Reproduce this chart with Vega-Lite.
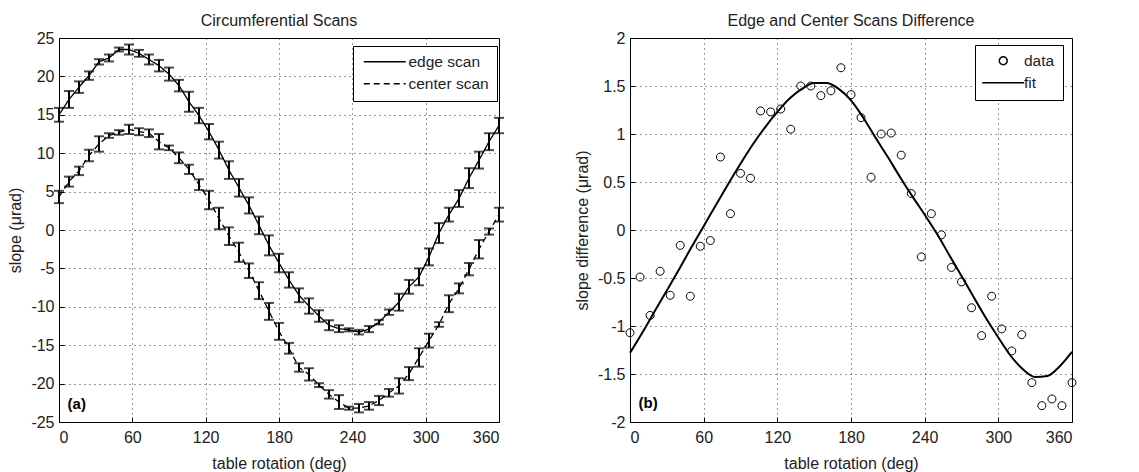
{
  "$schema": "https://vega.github.io/schema/vega-lite/v6.json",
  "background": "white",
  "padding": {"left": 7, "top": 12, "right": 2, "bottom": 0},
  "bounds": "flush",
  "spacing": 131,
  "resolve": {"scale": {"x": "independent", "y": "independent"}},
  "config": {
    "font": "Liberation Sans",
    "view": {"stroke": "black", "strokeWidth": 1},
    "axis": {
      "domain": false,
      "grid": true,
      "gridColor": "black",
      "gridDash": [1, 4],
      "gridWidth": 1,
      "gridOpacity": 0.8,
      "tickColor": "black",
      "tickSize": -5,
      "tickWidth": 1,
      "labelFont": "Liberation Sans",
      "labelFontSize": 16,
      "labelColor": "#222",
      "labelPadding": 10,
      "labelOverlap": false,
      "titleFont": "Liberation Sans",
      "titleFontSize": 16,
      "titleFontWeight": "normal",
      "titleColor": "#222"
    },
    "axisX": {"labelPadding": 12, "titlePadding": 10},
    "axisY": {"titlePadding": 7},
    "title": {"font": "Liberation Sans", "fontSize": 16, "fontWeight": "normal", "color": "#222", "baseline": "alphabetic", "offset": 1}
  },
  "datasets": {
    "scans": [
      {"deg": 0, "scan": "edge scan", "slope": 15.0, "err": 0.9},
      {"deg": 8.18, "scan": "edge scan", "slope": 17.0, "err": 1.1},
      {"deg": 16.36, "scan": "edge scan", "slope": 18.6, "err": 0.75},
      {"deg": 24.55, "scan": "edge scan", "slope": 20.1, "err": 0.55},
      {"deg": 32.73, "scan": "edge scan", "slope": 21.9, "err": 0.35},
      {"deg": 40.91, "scan": "edge scan", "slope": 22.4, "err": 0.45},
      {"deg": 49.09, "scan": "edge scan", "slope": 23.5, "err": 0.25},
      {"deg": 57.27, "scan": "edge scan", "slope": 23.5, "err": 0.65},
      {"deg": 65.45, "scan": "edge scan", "slope": 23.0, "err": 0.45},
      {"deg": 73.64, "scan": "edge scan", "slope": 22.2, "err": 0.65},
      {"deg": 81.82, "scan": "edge scan", "slope": 21.4, "err": 0.75},
      {"deg": 90, "scan": "edge scan", "slope": 20.3, "err": 0.85},
      {"deg": 98.18, "scan": "edge scan", "slope": 18.8, "err": 0.75},
      {"deg": 106.36, "scan": "edge scan", "slope": 16.7, "err": 1.3},
      {"deg": 114.55, "scan": "edge scan", "slope": 14.9, "err": 1.0},
      {"deg": 122.73, "scan": "edge scan", "slope": 12.8, "err": 1.0},
      {"deg": 130.91, "scan": "edge scan", "slope": 10.4, "err": 1.1},
      {"deg": 139.09, "scan": "edge scan", "slope": 7.8, "err": 1.15},
      {"deg": 147.27, "scan": "edge scan", "slope": 5.5, "err": 1.15},
      {"deg": 155.45, "scan": "edge scan", "slope": 3.2, "err": 1.05},
      {"deg": 163.64, "scan": "edge scan", "slope": 0.6, "err": 1.15},
      {"deg": 171.82, "scan": "edge scan", "slope": -2.0, "err": 1.3},
      {"deg": 180, "scan": "edge scan", "slope": -4.3, "err": 1.2},
      {"deg": 188.18, "scan": "edge scan", "slope": -6.5, "err": 1.0},
      {"deg": 196.36, "scan": "edge scan", "slope": -8.5, "err": 0.9},
      {"deg": 204.55, "scan": "edge scan", "slope": -9.9, "err": 1.0},
      {"deg": 212.73, "scan": "edge scan", "slope": -11.2, "err": 0.75},
      {"deg": 220.91, "scan": "edge scan", "slope": -12.4, "err": 0.65},
      {"deg": 229.09, "scan": "edge scan", "slope": -12.85, "err": 0.45},
      {"deg": 237.27, "scan": "edge scan", "slope": -13.0, "err": 0.2},
      {"deg": 245.45, "scan": "edge scan", "slope": -13.3, "err": 0.3},
      {"deg": 253.64, "scan": "edge scan", "slope": -12.9, "err": 0.4},
      {"deg": 261.82, "scan": "edge scan", "slope": -12.0, "err": 0.3},
      {"deg": 270, "scan": "edge scan", "slope": -10.7, "err": 0.35},
      {"deg": 278.18, "scan": "edge scan", "slope": -9.4, "err": 1.1},
      {"deg": 286.36, "scan": "edge scan", "slope": -7.4, "err": 0.9},
      {"deg": 294.55, "scan": "edge scan", "slope": -6.1, "err": 1.1},
      {"deg": 302.73, "scan": "edge scan", "slope": -3.5, "err": 1.1},
      {"deg": 310.91, "scan": "edge scan", "slope": -0.4, "err": 1.3},
      {"deg": 319.09, "scan": "edge scan", "slope": 2.0, "err": 0.9},
      {"deg": 327.27, "scan": "edge scan", "slope": 4.1, "err": 1.1},
      {"deg": 335.45, "scan": "edge scan", "slope": 6.75, "err": 1.3},
      {"deg": 343.64, "scan": "edge scan", "slope": 9.1, "err": 1.1},
      {"deg": 351.82, "scan": "edge scan", "slope": 11.5, "err": 1.1},
      {"deg": 360, "scan": "edge scan", "slope": 13.6, "err": 1.0},
      {"deg": 0, "scan": "center scan", "slope": 4.3, "err": 0.8},
      {"deg": 8.18, "scan": "center scan", "slope": 6.3, "err": 0.65},
      {"deg": 16.36, "scan": "center scan", "slope": 7.7, "err": 0.55},
      {"deg": 24.55, "scan": "center scan", "slope": 9.7, "err": 0.75},
      {"deg": 32.73, "scan": "center scan", "slope": 11.2, "err": 1.0},
      {"deg": 40.91, "scan": "center scan", "slope": 12.3, "err": 0.3},
      {"deg": 49.09, "scan": "center scan", "slope": 12.7, "err": 0.3},
      {"deg": 57.27, "scan": "center scan", "slope": 13.1, "err": 0.6},
      {"deg": 65.45, "scan": "center scan", "slope": 12.8, "err": 0.45},
      {"deg": 73.64, "scan": "center scan", "slope": 12.6, "err": 0.5},
      {"deg": 81.82, "scan": "center scan", "slope": 11.5, "err": 1.0},
      {"deg": 90, "scan": "center scan", "slope": 10.7, "err": 0.3},
      {"deg": 98.18, "scan": "center scan", "slope": 9.4, "err": 0.7},
      {"deg": 106.36, "scan": "center scan", "slope": 7.9, "err": 0.6},
      {"deg": 114.55, "scan": "center scan", "slope": 5.9, "err": 0.7},
      {"deg": 122.73, "scan": "center scan", "slope": 3.9, "err": 1.2},
      {"deg": 130.91, "scan": "center scan", "slope": 1.5, "err": 1.4},
      {"deg": 139.09, "scan": "center scan", "slope": -0.8, "err": 1.15},
      {"deg": 147.27, "scan": "center scan", "slope": -2.9, "err": 1.25},
      {"deg": 155.45, "scan": "center scan", "slope": -5.3, "err": 0.95},
      {"deg": 163.64, "scan": "center scan", "slope": -7.9, "err": 1.1},
      {"deg": 171.82, "scan": "center scan", "slope": -10.6, "err": 1.1},
      {"deg": 180, "scan": "center scan", "slope": -13.2, "err": 1.1},
      {"deg": 188.18, "scan": "center scan", "slope": -15.4, "err": 0.7},
      {"deg": 196.36, "scan": "center scan", "slope": -17.9, "err": 0.55},
      {"deg": 204.55, "scan": "center scan", "slope": -18.8, "err": 0.8},
      {"deg": 212.73, "scan": "center scan", "slope": -20.2, "err": 0.25},
      {"deg": 220.91, "scan": "center scan", "slope": -21.4, "err": 0.55},
      {"deg": 229.09, "scan": "center scan", "slope": -22.4, "err": 0.9},
      {"deg": 237.27, "scan": "center scan", "slope": -23.2, "err": 0.2},
      {"deg": 245.45, "scan": "center scan", "slope": -23.2, "err": 0.55},
      {"deg": 253.64, "scan": "center scan", "slope": -22.9, "err": 0.5},
      {"deg": 261.82, "scan": "center scan", "slope": -22.2, "err": 0.6},
      {"deg": 270, "scan": "center scan", "slope": -21.2, "err": 0.5},
      {"deg": 278.18, "scan": "center scan", "slope": -20.3, "err": 1.0},
      {"deg": 286.36, "scan": "center scan", "slope": -18.7, "err": 0.85},
      {"deg": 294.55, "scan": "center scan", "slope": -16.6, "err": 1.2},
      {"deg": 302.73, "scan": "center scan", "slope": -14.4, "err": 0.9},
      {"deg": 310.91, "scan": "center scan", "slope": -12.3, "err": 0.3},
      {"deg": 319.09, "scan": "center scan", "slope": -9.6, "err": 1.1},
      {"deg": 327.27, "scan": "center scan", "slope": -7.6, "err": 0.65},
      {"deg": 335.45, "scan": "center scan", "slope": -5.1, "err": 0.8},
      {"deg": 343.64, "scan": "center scan", "slope": -2.5, "err": 1.2},
      {"deg": 351.82, "scan": "center scan", "slope": -0.2, "err": 0.4},
      {"deg": 360, "scan": "center scan", "slope": 2.0, "err": 0.9}
    ],
    "difference": [
      {"deg": 0, "diff": -1.07, "series": "data"},
      {"deg": 8.18, "diff": -0.49, "series": "data"},
      {"deg": 16.36, "diff": -0.89, "series": "data"},
      {"deg": 24.55, "diff": -0.43, "series": "data"},
      {"deg": 32.73, "diff": -0.68, "series": "data"},
      {"deg": 40.91, "diff": -0.16, "series": "data"},
      {"deg": 49.09, "diff": -0.69, "series": "data"},
      {"deg": 57.27, "diff": -0.17, "series": "data"},
      {"deg": 65.45, "diff": -0.11, "series": "data"},
      {"deg": 73.64, "diff": 0.76, "series": "data"},
      {"deg": 81.82, "diff": 0.17, "series": "data"},
      {"deg": 90, "diff": 0.59, "series": "data"},
      {"deg": 98.18, "diff": 0.54, "series": "data"},
      {"deg": 106.36, "diff": 1.24, "series": "data"},
      {"deg": 114.55, "diff": 1.23, "series": "data"},
      {"deg": 122.73, "diff": 1.26, "series": "data"},
      {"deg": 130.91, "diff": 1.05, "series": "data"},
      {"deg": 139.09, "diff": 1.5, "series": "data"},
      {"deg": 147.27, "diff": 1.5, "series": "data"},
      {"deg": 155.45, "diff": 1.4, "series": "data"},
      {"deg": 163.64, "diff": 1.45, "series": "data"},
      {"deg": 171.82, "diff": 1.69, "series": "data"},
      {"deg": 180, "diff": 1.41, "series": "data"},
      {"deg": 188.18, "diff": 1.17, "series": "data"},
      {"deg": 196.36, "diff": 0.55, "series": "data"},
      {"deg": 204.55, "diff": 1.0, "series": "data"},
      {"deg": 212.73, "diff": 1.01, "series": "data"},
      {"deg": 220.91, "diff": 0.78, "series": "data"},
      {"deg": 229.09, "diff": 0.38, "series": "data"},
      {"deg": 237.27, "diff": -0.28, "series": "data"},
      {"deg": 245.45, "diff": 0.17, "series": "data"},
      {"deg": 253.64, "diff": -0.05, "series": "data"},
      {"deg": 261.82, "diff": -0.39, "series": "data"},
      {"deg": 270, "diff": -0.54, "series": "data"},
      {"deg": 278.18, "diff": -0.81, "series": "data"},
      {"deg": 286.36, "diff": -1.1, "series": "data"},
      {"deg": 294.55, "diff": -0.69, "series": "data"},
      {"deg": 302.73, "diff": -1.03, "series": "data"},
      {"deg": 310.91, "diff": -1.26, "series": "data"},
      {"deg": 319.09, "diff": -1.09, "series": "data"},
      {"deg": 327.27, "diff": -1.59, "series": "data"},
      {"deg": 335.45, "diff": -1.83, "series": "data"},
      {"deg": 343.64, "diff": -1.76, "series": "data"},
      {"deg": 351.82, "diff": -1.83, "series": "data"},
      {"deg": 360, "diff": -1.59, "series": "data"}
    ],
    "fit": [
      {"deg": 0, "fit": -1.28},
      {"deg": 10, "fit": -1.07},
      {"deg": 20, "fit": -0.85},
      {"deg": 30, "fit": -0.63},
      {"deg": 40, "fit": -0.41},
      {"deg": 50, "fit": -0.18},
      {"deg": 60, "fit": 0.04},
      {"deg": 70, "fit": 0.26},
      {"deg": 80, "fit": 0.48},
      {"deg": 90, "fit": 0.69},
      {"deg": 100, "fit": 0.89},
      {"deg": 110, "fit": 1.07},
      {"deg": 120, "fit": 1.23},
      {"deg": 130, "fit": 1.37},
      {"deg": 140, "fit": 1.47},
      {"deg": 150, "fit": 1.53},
      {"deg": 160, "fit": 1.53},
      {"deg": 170, "fit": 1.47},
      {"deg": 180, "fit": 1.35},
      {"deg": 190, "fit": 1.17},
      {"deg": 200, "fit": 0.96},
      {"deg": 210, "fit": 0.76},
      {"deg": 220, "fit": 0.55},
      {"deg": 230, "fit": 0.35},
      {"deg": 240, "fit": 0.16},
      {"deg": 250, "fit": -0.04},
      {"deg": 260, "fit": -0.26},
      {"deg": 270, "fit": -0.48},
      {"deg": 280, "fit": -0.70},
      {"deg": 290, "fit": -0.92},
      {"deg": 300, "fit": -1.12},
      {"deg": 310, "fit": -1.31},
      {"deg": 320, "fit": -1.45},
      {"deg": 330, "fit": -1.53},
      {"deg": 340, "fit": -1.52},
      {"deg": 350, "fit": -1.42},
      {"deg": 360, "fit": -1.27}
    ]
  },
  "hconcat": [
    {
      "width": 440,
      "height": 384,
      "title": "Circumferential Scans",
      "layer": [
        {
          "data": {"name": "scans"},
          "encoding": {
            "x": {
              "field": "deg", "type": "quantitative",
              "scale": {"domain": [0, 360], "nice": false, "zero": false},
              "axis": {"title": "table rotation (deg)", "values": [0, 60, 120, 180, 240, 300, 360]}
            },
            "y": {
              "field": "slope", "type": "quantitative",
              "scale": {"domain": [-25, 25], "nice": false},
              "axis": {"title": "slope (\u03bcrad)", "values": [-25, -20, -15, -10, -5, 0, 5, 10, 15, 20, 25], "labelExpr": "'' + datum.value"}
            }
          },
          "layer": [
            {
              "mark": {"type": "line", "color": "black", "strokeWidth": 1.3},
              "encoding": {
                "strokeDash": {
                  "field": "scan", "type": "nominal",
                  "scale": {"domain": ["edge scan", "center scan"], "range": [[1, 0], [6, 4]]},
                  "legend": {
                    "title": null, "orient": "none", "legendX": 294, "legendY": 8,
                    "symbolType": "M-5,0H5", "symbolSize": 70.56, "symbolStrokeWidth": 1.5, "symbolStrokeColor": "black",
                    "symbolOffset": 16,
                    "labelFont": "Liberation Sans", "labelFontSize": 15.5, "labelColor": "#222", "labelOffset": 16,
                    "strokeColor": "black", "fillColor": "white", "padding": 8, "rowPadding": 5
                  }
                }
              }
            },
            {
              "mark": {"type": "errorbar", "color": "black", "thickness": 2, "ticks": {"size": 10, "thickness": 2, "color": "black"}},
              "encoding": {
                "yError": {"field": "err"}
              }
            }
          ]
        },
        {
          "data": {"values": [{}]},
          "mark": {"type": "text", "font": "Liberation Sans", "fontSize": 15, "fontWeight": "bold", "color": "black", "align": "left", "baseline": "middle"},
          "encoding": {
            "x": {"datum": 7, "type": "quantitative", "axis": {"title": "table rotation (deg)", "values": [0, 60, 120, 180, 240, 300, 360]}},
            "y": {"datum": -22.6, "type": "quantitative", "axis": {"title": "slope (\u03bcrad)", "values": [-25, -20, -15, -10, -5, 0, 5, 10, 15, 20, 25], "labelExpr": "'' + datum.value"}},
            "text": {"value": "(a)"}
          }
        }
      ]
    },
    {
      "width": 442,
      "height": 384,
      "title": "Edge and Center Scans Difference",
      "layer": [
        {
          "data": {"name": "fit"},
          "mark": {"type": "line", "color": "black", "strokeWidth": 2, "interpolate": "monotone"},
          "encoding": {
            "x": {
              "field": "deg", "type": "quantitative",
              "scale": {"domain": [0, 360], "nice": false, "zero": false},
              "axis": {"title": "table rotation (deg)", "values": [0, 60, 120, 180, 240, 300, 360]}
            },
            "y": {
              "field": "fit", "type": "quantitative",
              "scale": {"domain": [-2, 2], "nice": false},
              "axis": {"title": "slope difference (\u03bcrad)", "values": [-2, -1.5, -1, -0.5, 0, 0.5, 1, 1.5, 2], "labelExpr": "'' + datum.value"}
            }
          }
        },
        {
          "data": {"name": "difference"},
          "mark": {"type": "point", "filled": false, "color": "black", "opacity": 1, "size": 70.56, "strokeWidth": 1},
          "encoding": {
            "x": {"field": "deg", "type": "quantitative"},
            "y": {"field": "diff", "type": "quantitative"},
            "shape": {
              "field": "series", "type": "nominal",
              "scale": {"domain": ["data", "fit"], "range": ["M0.952,0A0.952,0.952,0,1,1,-0.952,0A0.952,0.952,0,1,1,0.952,0Z", "M-5,0H5"]},
              "legend": {
                "title": null, "orient": "none", "legendX": 916, "legendY": 7,
                "symbolSize": 70.56, "symbolStrokeWidth": 1.5, "symbolStrokeColor": "black",
                "symbolOffset": 12.5,
                "labelFont": "Liberation Sans", "labelFontSize": 15.5, "labelColor": "#222", "labelOffset": 13,
                "strokeColor": "black", "fillColor": "white", "padding": 8, "rowPadding": 5
              }
            }
          }
        },
        {
          "data": {"values": [{}]},
          "mark": {"type": "text", "font": "Liberation Sans", "fontSize": 15, "fontWeight": "bold", "color": "black", "align": "left", "baseline": "middle"},
          "encoding": {
            "x": {"datum": 7, "type": "quantitative", "axis": {"title": "table rotation (deg)", "values": [0, 60, 120, 180, 240, 300, 360]}},
            "y": {"datum": -1.8, "type": "quantitative", "axis": {"title": "slope difference (\u03bcrad)", "values": [-2, -1.5, -1, -0.5, 0, 0.5, 1, 1.5, 2], "labelExpr": "'' + datum.value"}},
            "text": {"value": "(b)"}
          }
        }
      ]
    }
  ]
}
